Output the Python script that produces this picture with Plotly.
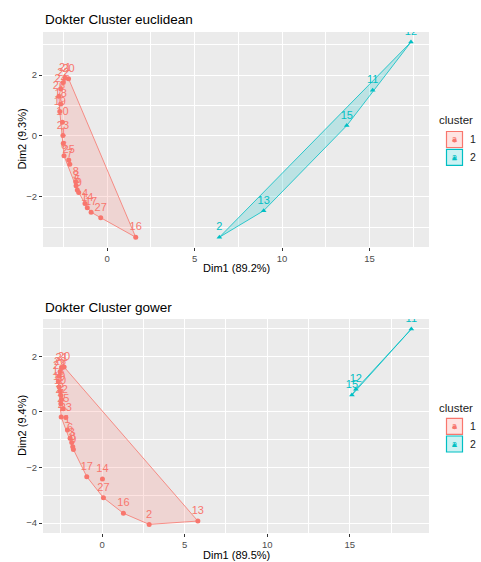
import plotly.graph_objects as go

# ---------------- data: euclidean panel ----------------
euc_labels = ["1", "2", "3", "4", "5", "6", "7", "8", "9", "10", "11", "12", "13", "14",
              "15", "16", "17", "18", "19", "20", "21", "22", "23", "24", "25", "26", "27"]
euc_dim1 = [-2.50, 6.42, -1.77, -1.26, -1.70, -2.46, -2.13, -1.79, -1.62, -2.55, 15.18, 17.37, 8.95, -1.13,
            13.70, 1.64, -0.91, -2.65, -2.70, -2.20, -2.40, -2.50, -2.52, -2.65, -2.19, -2.75, -0.36]
euc_dim2 = [-0.24, -3.32, -1.63, -2.21, -1.77, -0.65, -0.93, -1.50, -1.85, 0.45, 1.50, 3.08, -2.45, -2.35,
            0.34, -3.32, -2.50, 1.05, 0.80, 1.88, 1.90, 1.75, 0.02, 1.55, -0.79, 1.30, -2.68]
euc_cluster = [1, 2, 1, 1, 1, 1, 1, 1, 1, 1, 2, 2, 2, 1,
               2, 1, 1, 1, 1, 1, 1, 1, 1, 1, 1, 1, 1]

# ---------------- data: gower panel ----------------
gow_labels = euc_labels
gow_dim1 = [-2.10, 2.85, -1.84, -2.48, -2.50, -1.94, -2.50, -1.78, -1.74, -2.55, 18.73, 15.37, 5.80, 0.02,
            15.13, 1.29, -0.93, -2.65, -2.60, -2.30, -2.45, -2.45, -2.20, -2.60, -2.35, -2.55, 0.08]
gow_dim2 = [-0.65, -4.05, -1.10, -0.18, 0.60, -0.95, 0.30, -1.25, -1.35, 0.75, 2.99, 0.82, -3.93, -2.41,
            0.61, -3.65, -2.33, 1.10, 0.90, 1.62, 1.60, 0.45, -0.20, 1.30, 0.12, 1.45, -3.09]
gow_cluster = [1, 1, 1, 1, 1, 1, 1, 1, 1, 1, 2, 2, 1, 1,
               2, 1, 1, 1, 1, 1, 1, 1, 1, 1, 1, 1, 1]

cluster_names = [1, 2]
colors = {1: "#F8766D", 2: "#00BFC4"}
fills = {1: "rgba(248,118,109,0.2)", 2: "rgba(0,191,196,0.2)"}
symbols = {1: "circle", 2: "triangle-up"}

W, H = 481, 562
FONT = "Liberation Sans, Arial, sans-serif"


def px(x):
    return x / W


def py(y):
    return 1 - y / H


def hull(pts):
    pts = sorted(set(pts))
    if len(pts) <= 2:
        return pts

    def cross(o, a, b):
        return (a[0] - o[0]) * (b[1] - o[1]) - (a[1] - o[1]) * (b[0] - o[0])

    lower, upper = [], []
    for p in pts:
        while len(lower) >= 2 and cross(lower[-2], lower[-1], p) <= 0:
            lower.pop()
        lower.append(p)
    for p in reversed(pts):
        while len(upper) >= 2 and cross(upper[-2], upper[-1], p) <= 0:
            upper.pop()
        upper.append(p)
    return lower[:-1] + upper[:-1]


fig = go.Figure()


def add_panel(labels, d1, d2, clus, xa, ya):
    for c in cluster_names:
        idx = [i for i, k in enumerate(clus) if k == c]
        xs = [d1[i] for i in idx]
        ys = [d2[i] for i in idx]
        tx = [labels[i] for i in idx]
        h = hull(list(zip(xs, ys)))
        hx = [p[0] for p in h] + [h[0][0]]
        hy = [p[1] for p in h] + [h[0][1]]
        fig.add_trace(go.Scatter(x=hx, y=hy, mode="lines", fill="toself",
                                 fillcolor=fills[c], line=dict(color=colors[c], width=0.8),
                                 xaxis=xa, yaxis=ya, showlegend=False, hoverinfo="skip"))
        fig.add_trace(go.Scatter(x=xs, y=ys, mode="markers+text", text=tx,
                                 textposition="top center",
                                 textfont=dict(color=colors[c], size=11, family=FONT),
                                 marker=dict(color=colors[c], size=5, symbol=symbols[c]),
                                 xaxis=xa, yaxis=ya, showlegend=False))


add_panel(euc_labels, euc_dim1, euc_dim2, euc_cluster, "x", "y")
add_panel(gow_labels, gow_dim1, gow_dim2, gow_cluster, "x2", "y2")

xdom = [px(43), px(429)]
top_dom = [py(247), py(32)]
bot_dom = [py(533), py(319)]


def axis(dom, anchor, rng, major, minor):
    return dict(domain=dom, anchor=anchor, range=rng, tickvals=major,
                showgrid=True, gridcolor="white", gridwidth=1.1, zeroline=False,
                showline=False, ticks="outside", ticklen=3, tickcolor="#333333",
                tickfont=dict(size=9.5, color="#4D4D4D", family=FONT),
                minor=dict(showgrid=True, gridcolor="white", gridwidth=0.5, tickvals=minor))


fig.update_layout(
    width=W, height=H, margin=dict(l=0, r=0, t=0, b=0),
    paper_bgcolor="white", plot_bgcolor="#EBEBEB",
    font=dict(family=FONT), showlegend=False,
    xaxis=axis(xdom, "y", [-3.66, 18.4], [0, 5, 10, 15], [-2.5, 2.5, 7.5, 12.5, 17.5]),
    yaxis=axis(top_dom, "x", [-3.64, 3.41], [-2, 0, 2], [-3, -1, 1, 3]),
    xaxis2=axis(xdom, "y2", [-3.58, 19.8], [0, 5, 10, 15], [-2.5, 2.5, 7.5, 12.5, 17.5]),
    yaxis2=axis(bot_dom, "x2", [-4.36, 3.35], [-4, -2, 0, 2], [-3, -1, 1, 3]),
)

annots = [
    dict(text="Dokter Cluster euclidean", x=43, y=20, size=13.5, xanchor="left", angle=0),
    dict(text="Dokter Cluster gower", x=43, y=307, size=13.5, xanchor="left", angle=0),
    dict(text="Dim1 (89.2%)", x=236, y=268, size=11, xanchor="center", angle=0),
    dict(text="Dim1 (89.5%)", x=236, y=555, size=11, xanchor="center", angle=0),
    dict(text="Dim2 (9.3%)", x=22, y=139.5, size=11, xanchor="center", angle=-90),
    dict(text="Dim2 (9.4%)", x=22, y=426, size=11, xanchor="center", angle=-90),
]
for a in annots:
    fig.add_annotation(text=a["text"], x=px(a["x"]), y=py(a["y"]), xref="paper", yref="paper",
                       xanchor=a["xanchor"], yanchor="middle", showarrow=False, textangle=a["angle"],
                       font=dict(size=a["size"], color="black", family=FONT))

# ---------------- legends (ggplot-style keys) ----------------
legend_title_y = [120, 408]
legend_box_tops = [[131.5, 149.3], [418.3, 436.0]]
box_x0, box_x1 = 446.5, 462.5
for ty, tops in zip(legend_title_y, legend_box_tops):
    fig.add_annotation(text="cluster", x=px(437), y=py(ty), xref="paper", yref="paper",
                       xanchor="left", yanchor="middle", showarrow=False,
                       font=dict(size=11.5, color="#1A1A1A", family=FONT))
    for c, top in zip(cluster_names, tops):
        bot = top + 16
        cx, cy = (box_x0 + box_x1) / 2, (top + bot) / 2
        fig.add_shape(type="rect", xref="paper", yref="paper",
                      x0=px(box_x0), x1=px(box_x1), y0=py(bot), y1=py(top),
                      fillcolor=fills[c], line=dict(color=colors[c], width=1.2))
        fig.add_annotation(text="a", x=px(cx), y=py(cy - 0.5), xref="paper", yref="paper",
                           xanchor="center", yanchor="middle", showarrow=False,
                           font=dict(size=9, color=colors[c], family=FONT))
        if symbols[c] == "circle":
            fig.add_shape(type="circle", xref="paper", yref="paper",
                          x0=px(cx - 2), x1=px(cx + 2), y0=py(cy + 3), y1=py(cy - 1),
                          fillcolor=colors[c], line=dict(width=0))
        else:
            fig.add_shape(type="path", xref="paper", yref="paper",
                          path=f"M {px(cx - 2.3)} {py(cy + 3)} L {px(cx + 2.3)} {py(cy + 3)} "
                               f"L {px(cx)} {py(cy - 1.2)} Z",
                          fillcolor=colors[c], line=dict(width=0))
        fig.add_annotation(text=str(c), x=px(468), y=py(cy), xref="paper", yref="paper",
                           xanchor="left", yanchor="middle", showarrow=False,
                           font=dict(size=10.5, color="#1A1A1A", family=FONT))

fig.write_html("out.html", config={"displayModeBar": False},
               post_script="document.body.style.margin='0';")
